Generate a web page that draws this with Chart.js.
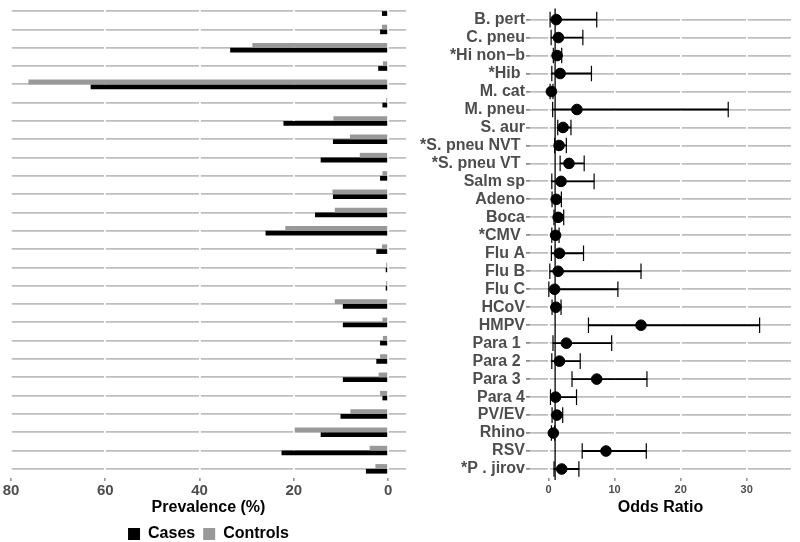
<!DOCTYPE html>
<html>
<head>
<meta charset="utf-8">
<script src="https://cdn.jsdelivr.net/npm/chart.js@4/dist/chart.umd.min.js"></script>
<style>
  html, body { margin: 0; padding: 0; background: #fff; overflow: hidden; }
  body { width: 800px; height: 542px; position: relative; }
  canvas { position: absolute; top: 0; }
  #prev-chart { left: 0; }
  #or-chart { left: 406px; }
</style>
</head>
<body>
<canvas id="prev-chart" width="406" height="552"></canvas>
<canvas id="or-chart" width="394" height="542"></canvas>
<script>
// =========================
//  DATA
// =========================
const categories = ["B. pert", "C. pneu", "*Hi non\u2212b", "*Hib ", "M. cat", "M. pneu", "S. aur",
    "*S. pneu NVT ", "*S. pneu VT ", "Salm sp", "Adeno", "Boca", "*CMV ", "Flu A", "Flu B", "Flu C",
    "HCoV", "HMPV", "Para 1 ", "Para 2 ", "Para 3 ", "Para 4", "PV/EV", "Rhino", "RSV", "*P . jirov"];

// prevalence (%)
const controls = [0.2, 1.3, 28.8, 1.1, 76.3, 0.4, 11.6, 8.1, 6.0, 1.2,
    11.8, 11.3, 21.8, 1.3, 0.4, 0.4, 11.3, 1.2, 1.1, 1.7,
    2.0, 1.7, 8.0, 19.8, 3.9, 2.7];
const cases = [1.3, 1.7, 33.5, 2.1, 63.1, 1.2, 22.2, 11.7, 14.3, 1.7,
    11.7, 15.5, 26.0, 2.5, 0.5, 0.5, 9.6, 9.6, 1.7, 2.5,
    9.6, 1.2, 10.1, 14.3, 22.6, 4.7];

// odds ratio with confidence interval
const oddsRatio = [1.17, 1.5, 1.3, 1.76, 0.44, 4.3, 2.2, 1.6, 3.1, 1.9,
    1.17, 1.46, 1.07, 1.66, 1.46, 0.93, 1.12, 14.0, 2.7, 1.66,
    7.3, 1.07, 1.27, 0.73, 8.7, 2.0];
const ciLow = [0.24, 0.4, 0.73, 0.5, 0.24, 0.63, 1.4, 0.93, 1.76, 0.5,
    0.54, 0.83, 0.5, 0.44, 0.2, 0.05, 0.54, 6.05, 0.68, 0.5,
    3.56, 0.3, 0.54, 0.44, 5.1, 0.83];
const ciHigh = [7.3, 5.2, 2.0, 6.5, 0.68, 27.2, 3.4, 2.7, 5.4, 6.9,
    1.95, 2.3, 1.6, 5.3, 14.0, 10.5, 1.9, 31.95, 9.56, 4.8,
    14.9, 4.24, 2.15, 0.93, 14.8, 4.6];

const noEffect = 1;

// =========================
//  SHARED STYLE
// =========================
const FONT = "'Liberation Sans', Arial, Helvetica, sans-serif";
const LABEL_GREY = "#4d4d4d";
const GRID_GREY = "#bebebe";

// =========================
//  LEFT: PREVALENCE BARS
// =========================
new Chart(document.getElementById("prev-chart"), {
    type: "bar",
    data: {
        labels: categories,
        datasets: [
            { label: "Controls", data: controls, backgroundColor: "#999999" },
            { label: "Cases", data: cases, backgroundColor: "#000000" }
        ]
    },
    options: {
        indexAxis: "y",
        responsive: false,
        animation: false,
        layout: { padding: { top: 2, left: 11, right: 0, bottom: 0 } },
        datasets: { bar: { categoryPercentage: 0.52, barPercentage: 1 } },
        plugins: {
            tooltip: { enabled: false },
            legend: {
                position: "bottom",
                reverse: true,
                labels: {
                    boxWidth: 12,
                    boxHeight: 12,
                    padding: 8,
                    color: "#000",
                    font: { family: FONT, size: 16, weight: "bold" }
                }
            }
        },
        scales: {
            x: {
                type: "linear",
                reverse: true,
                offset: false,
                min: -3.8,
                max: 80,
                afterFit: s => { s.height = 40; },
                ticks: {
                    stepSize: 20,
                    includeBounds: false,
                    padding: 1,
                    color: LABEL_GREY,
                    font: { family: FONT, size: 15, weight: "bold" }
                },
                grid: { offset: false, color: "#ffffff", lineWidth: 1.8, tickColor: "#555", tickWidth: 1, tickLength: 3, z: -1 },
                border: { display: false },
                title: {
                    display: true,
                    text: "Prevalence (%)",
                    color: "#000",
                    font: { family: FONT, size: 16, weight: "bold" },
                    padding: { top: 0, bottom: 1 }
                }
            },
            y: {
                type: "category",
                offset: true,
                afterFit: s => { s.width = 0; },
                ticks: { display: false, autoSkip: false },
                grid: { offset: false, color: GRID_GREY, lineWidth: 1.8, drawTicks: false, z: -2 },
                border: { display: false }
            }
        }
    }
});

// =========================
//  RIGHT: ODDS RATIOS
// =========================
const pointData = categories.map((c, i) => ({ x: oddsRatio[i], y: c }));
const capData = categories.flatMap((c, i) => [{ x: ciLow[i], y: c }, { x: ciHigh[i], y: c }]);
const whiskerData = categories.map((c, i) => [ciLow[i], ciHigh[i]]);

const refLine = {
    id: "refLine",
    beforeDatasetsDraw(chart) {
        const { ctx, chartArea } = chart;
        const x = chart.scales.x.getPixelForValue(noEffect);
        ctx.save();
        ctx.strokeStyle = "#000";
        ctx.lineWidth = 1.3;
        ctx.beginPath();
        ctx.moveTo(x, chartArea.top - 2);
        ctx.lineTo(x, chartArea.bottom + 2);
        ctx.stroke();
        ctx.restore();
    }
};

new Chart(document.getElementById("or-chart"), {
    type: "bar",
    data: {
        labels: categories,
        datasets: [
            {
                type: "scatter",
                data: pointData,
                pointRadius: 5.3,
                backgroundColor: "#000",
                borderColor: "#000",
                order: 0
            },
            {
                type: "scatter",
                data: capData,
                pointStyle: "line",
                rotation: 90,
                pointRadius: 7.8,
                borderColor: "#000",
                borderWidth: 1.2,
                order: 1
            },
            {
                type: "bar",
                indexAxis: "y",
                data: whiskerData,
                backgroundColor: "#000",
                barThickness: 1.2,
                order: 2
            }
        ]
    },
    options: {
        responsive: false,
        animation: false,
        layout: { padding: { top: 2, left: 0, right: 0, bottom: 0 } },
        plugins: { legend: { display: false }, tooltip: { enabled: false } },
        scales: {
            x: {
                type: "linear",
                offset: false,
                min: -2.8,
                max: 36.7,
                afterFit: s => { s.height = 64; },
                ticks: {
                    stepSize: 10,
                    includeBounds: false,
                    padding: 2,
                    color: LABEL_GREY,
                    font: { family: FONT, size: 11, weight: "bold" }
                },
                grid: { offset: false, color: "#ffffff", lineWidth: 1.8, tickColor: "#555", tickWidth: 1, tickLength: 3, z: -1 },
                border: { display: false },
                title: {
                    display: true,
                    text: "Odds Ratio",
                    color: "#000",
                    font: { family: FONT, size: 16, weight: "bold" },
                    padding: { top: 0, bottom: 25 }
                }
            },
            y: {
                type: "category",
                offset: true,
                afterFit: s => { s.width = 124; },
                ticks: {
                    autoSkip: false,
                    padding: 1,
                    color: LABEL_GREY,
                    font: { family: FONT, size: 16, weight: "bold" }
                },
                grid: { offset: false, color: GRID_GREY, lineWidth: 1.8, tickColor: "#555", tickWidth: 1.2, tickLength: 4, z: -2 },
                border: { display: false }
            }
        }
    },
    plugins: [refLine]
});
</script>
</body>
</html>
